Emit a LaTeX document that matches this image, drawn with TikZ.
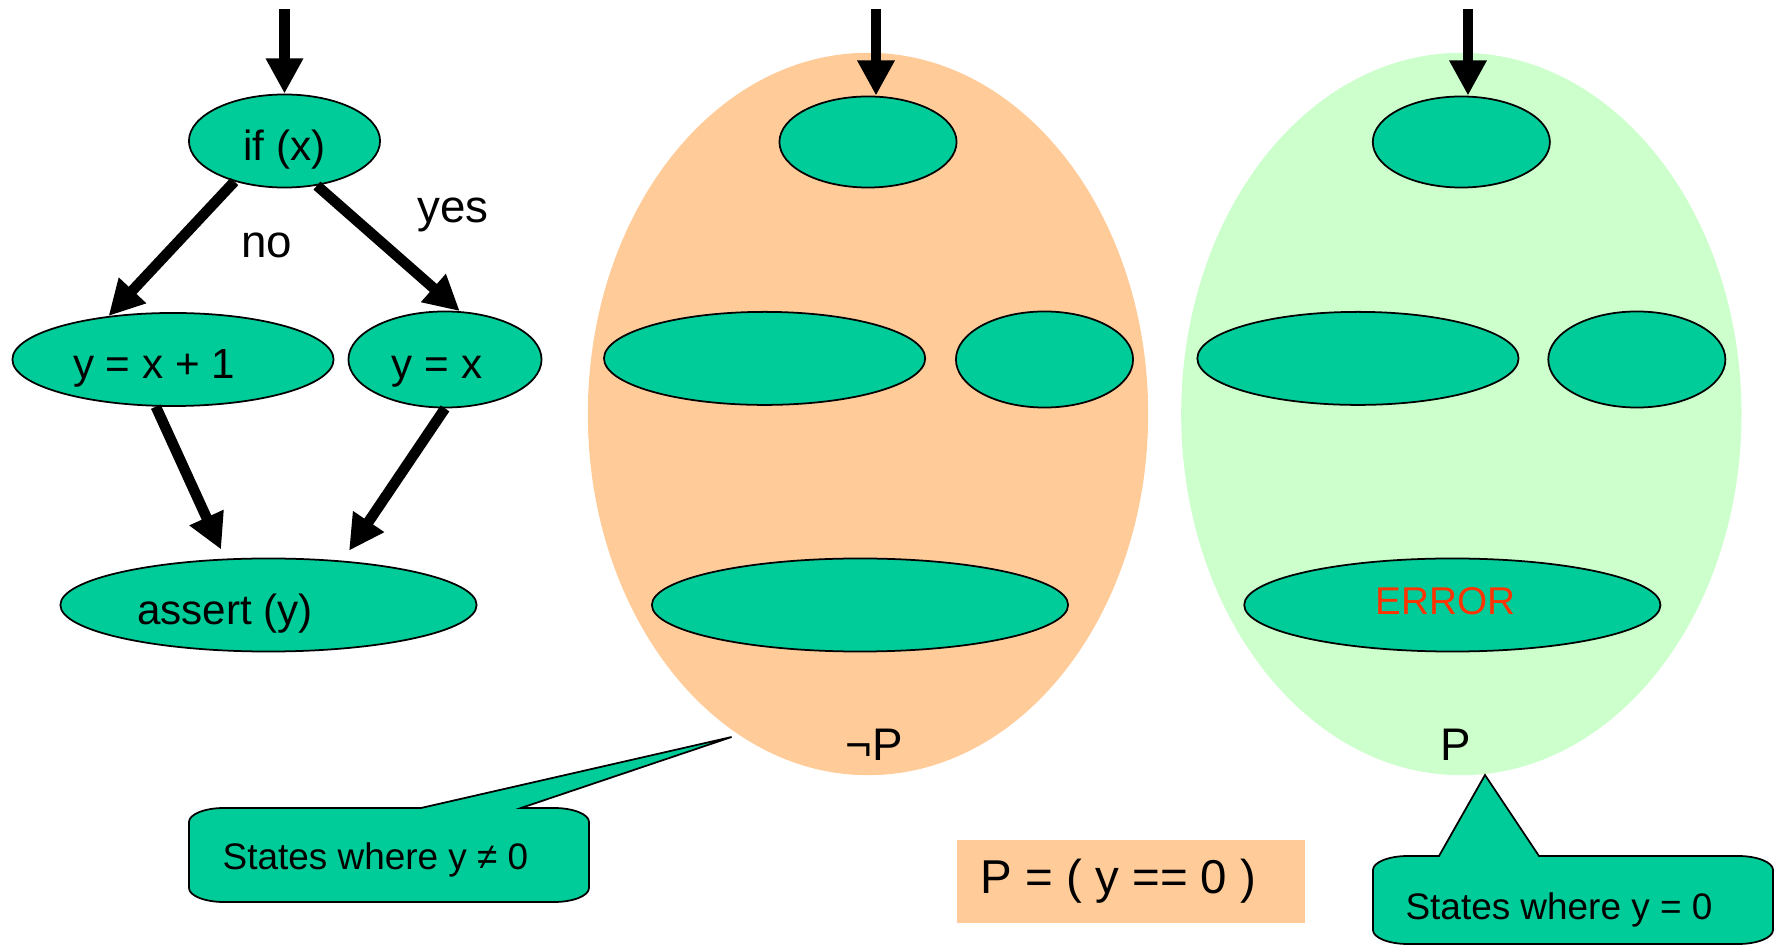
\documentclass[tikz,border=0pt]{standalone}
\usepackage{fontspec}
\setmainfont{Liberation Sans}
\usetikzlibrary{shapes,arrows,arrows.meta,positioning}
\definecolor{stategreen}{RGB}{0,204,153}
\definecolor{peach}{RGB}{255,204,153}
\definecolor{mint}{RGB}{204,255,204}
\definecolor{errred}{RGB}{255,51,0}

\begin{document}
\begin{tikzpicture}[x=0.01cm, y=0.01cm]
    \tikzstyle{stmt} = [ellipse, draw, line width=0.5pt, fill=stategreen, inner sep=0pt, text height=11pt, text depth=0pt, font=\fontsize{12}{14}\selectfont]
    \tikzstyle{region} = [ellipse, inner sep=0pt, minimum width=5.6cm, minimum height=7.22cm]
    \tikzstyle{flow} = [line width=3pt, -{Triangle[length=10pt,width=10pt]}]
    \tikzstyle{callout} = [draw, line width=0.5pt, fill=stategreen]
    \tikzstyle{lbl} = [font=\fontsize{13}{15}\selectfont]
    \tikzstyle{note} = [font=\fontsize{10.5}{12}\selectfont]

    \useasboundingbox (0,0) rectangle (1784,948);

    % the program
    \node [stmt, minimum width=1.91cm, minimum height=0.93cm] (ifx) at (284.5,807) {if (x)};
    \node [stmt, minimum width=3.21cm, minimum height=0.93cm] (yx1) at (173,588.5) {y = x + 1\hspace{0.38cm}\null};
    \node [stmt, minimum width=1.93cm, minimum height=0.96cm] (yx) at (445,588.5) {y = x\hspace{0.16cm}\null};
    \node [stmt, minimum width=4.16cm, minimum height=0.93cm] (assert) at (268.5,343) {assert (y)\hspace{0.87cm}\null};
    \coordinate (in1) at (284.5,939);

    \draw [flow] (in1) -- (ifx.north);
    \draw [flow] (ifx.219) -- (yx1.146);
    \draw [flow] (ifx.306) -- (yx.73);
    \draw [flow, shorten >=0.1cm] (yx1.250) -- (assert.133);
    \draw [flow, shorten >=0.12cm] (yx.south) -- (assert.31);
    \node [lbl] (no) at (267,703) {no};
    \node [lbl] (yes) at (453,733) {yes};

    % states where not P
    \node [region, fill=peach] (preg) at (868,534) {};
    \node [stmt, minimum width=1.77cm, minimum height=0.91cm] (o1) at (868,806) {};
    \node [stmt, minimum width=3.21cm, minimum height=0.93cm] (o2) at (764.6,589.6) {};
    \node [stmt, minimum width=1.77cm, minimum height=0.96cm] (o3) at (1044.5,588.5) {};
    \node [stmt, minimum width=4.16cm, minimum height=0.93cm] (o4) at (860,343) {};
    \node [lbl] (notp) at (874,203) {¬P};
    \coordinate (in2) at (876,939);
    \draw [flow] (in2) -- (in2 |- o1.north);

    % states where P
    \node [region, fill=mint, right of=preg, node distance=5.93cm] (nreg) {};
    \node [stmt, minimum width=1.77cm, minimum height=0.91cm, right of=o1, node distance=5.93cm] (g1) {};
    \node [stmt, minimum width=3.21cm, minimum height=0.93cm, right of=o2, node distance=5.93cm] (g2) {};
    \node [stmt, minimum width=1.77cm, minimum height=0.96cm, right of=o3, node distance=5.92cm] (g3) {};
    \node [stmt, minimum width=4.16cm, minimum height=0.93cm, right of=o4, node distance=5.92cm, text=errred, text height=5.2pt, font=\fontsize{11}{13}\selectfont] (g4) {ERROR\hspace{0.14cm}\null};
    \node [lbl] (p) at (1456,203) {P};
    \coordinate (in3) at (1468,939);
    \draw [flow] (in3) -- (in3 |- g1.north);

    % callouts
    \draw [callout] (421,140) -- (731.6,211) -- (521,140) -- (554,140)
        arc [start angle=90, end angle=0, x radius=0.35cm, y radius=0.14cm] -- (589,60)
        arc [start angle=0, end angle=-90, x radius=0.35cm, y radius=0.14cm] -- (224,46)
        arc [start angle=270, end angle=180, x radius=0.35cm, y radius=0.14cm] -- (189,126)
        arc [start angle=180, end angle=90, x radius=0.35cm, y radius=0.14cm] -- cycle;
    \node [note] (lnote) at (375.5,88) {States where y ≠ 0};

    \draw [callout] (1439,92) -- (1485,173) -- (1539,92) -- (1738,92)
        arc [start angle=90, end angle=0, x radius=0.35cm, y radius=0.14cm] -- (1773,18)
        arc [start angle=0, end angle=-90, x radius=0.35cm, y radius=0.14cm] -- (1408,4)
        arc [start angle=270, end angle=180, x radius=0.35cm, y radius=0.14cm] -- (1373,78)
        arc [start angle=180, end angle=90, x radius=0.35cm, y radius=0.14cm] -- cycle;
    \node [note] (rnote) at (1559,38) {States where y = 0};

    \node [fill=peach, minimum width=3.48cm, minimum height=0.83cm, font=\fontsize{13.5}{16}\selectfont] (pdef) at (1131,66.5) {P = ( y == 0 )\hspace{0.25cm}\null};
\end{tikzpicture}
\end{document}
